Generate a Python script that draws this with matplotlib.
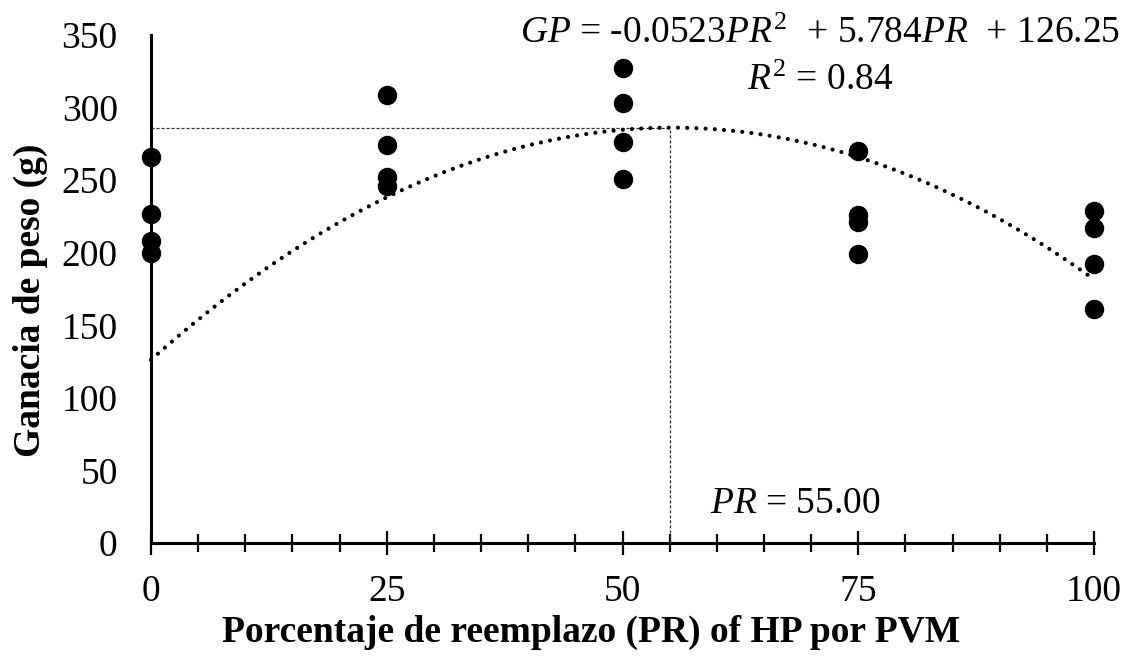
import numpy as np
import matplotlib
matplotlib.use("Agg")
import matplotlib.pyplot as plt

plt.rcParams['font.family'] = ['Liberation Serif', 'DejaVu Serif']
plt.rcParams['mathtext.fontset'] = 'custom'
plt.rcParams['mathtext.rm'] = 'Liberation Serif'
plt.rcParams['mathtext.it'] = 'Liberation Serif:italic'
plt.rcParams['mathtext.bf'] = 'Liberation Serif:bold'

# Data
pr_levels = [0, 25, 50, 75, 100]
gp_0 = [266, 227, 208, 200]
gp_25 = [309, 274, 252, 246]
gp_50 = [327, 303, 276, 251]
gp_75 = [270, 226, 221, 199]
gp_100 = [229, 217, 192, 161]
gp_values = [gp_0, gp_25, gp_50, gp_75, gp_100]

# Regression coefficients shown on the chart
coef_a = -0.0523
coef_b = 5.784
coef_c = 126.25
pr_opt = 55.00
xticks = [0, 25, 50, 75, 100]
yticks = [0, 50, 100, 150, 200, 250, 300, 350]

fig = plt.figure(figsize=(11.29, 6.65), dpi=100)
ax = fig.add_axes([151/1129, 1 - 543/665, (1094-151)/1129, (543-35)/665])

for x, vals in zip(pr_levels, gp_values):
    ax.plot([x]*len(vals), vals, 'o', color='black', ms=13, clip_on=False, zorder=5)

xs = np.linspace(0, 100, 400)
ys = coef_a*xs**2 + coef_b*xs + coef_c
ax.plot(xs, ys, color='black', lw=3.0, linestyle=(0, (0.01, 2.2)),
        dash_capstyle='round', clip_on=False, zorder=4)

gp_opt = coef_a*pr_opt**2 + coef_b*pr_opt + coef_c
ax.plot([0, pr_opt], [gp_opt, gp_opt], color='#333333', lw=0.9,
        linestyle=(0, (2.5, 1.5)), zorder=3)
ax.plot([pr_opt, pr_opt], [0, gp_opt], color='#333333', lw=0.9,
        linestyle=(0, (2.5, 1.5)), zorder=3)

ax.set_xlim(0, 100)
ax.set_ylim(0, 350)
for s in ['top', 'right']:
    ax.spines[s].set_visible(False)
for s in ['left', 'bottom']:
    ax.spines[s].set_linewidth(2.2)

ax.set_xticks(xticks)
ax.set_xticks(np.arange(0, 101, 5), minor=True)
ax.set_yticks(yticks)
ax.tick_params(axis='x', which='major', direction='inout', length=17, width=1.6,
               labelsize=27, pad=14)
ax.tick_params(axis='x', which='minor', direction='inout', length=13, width=1.6)
ax.tick_params(axis='y', which='both', length=0, labelsize=27, pad=24)

ax.set_xlabel('Porcentaje de reemplazo (PR) of HP por PVM', fontsize=27,
              fontweight='bold', va='center')
ax.xaxis.set_label_coords((591-151)/943, (543-632)/508)
ax.set_ylabel('Ganacia de peso (g)', fontsize=27, fontweight='bold', va='center')
ax.yaxis.set_label_coords((30-151)/943, (543-300)/508)

ax.text(71.0, 344.6, r'$\it{GP}$ = -0.0523$\it{PR}^2$  + 5.784$\it{PR}$  + 126.25',
        fontsize=27, ha='center', va='baseline', clip_on=False)
ax.text(71.0, 312.2, r'$\it{R}^2$ = 0.84', fontsize=27, ha='center', va='baseline')
ax.text(59.3, 20.7, r'$\it{PR}$ = 55.00', fontsize=27, ha='left', va='baseline')

fig.savefig('out.png', dpi=100)
